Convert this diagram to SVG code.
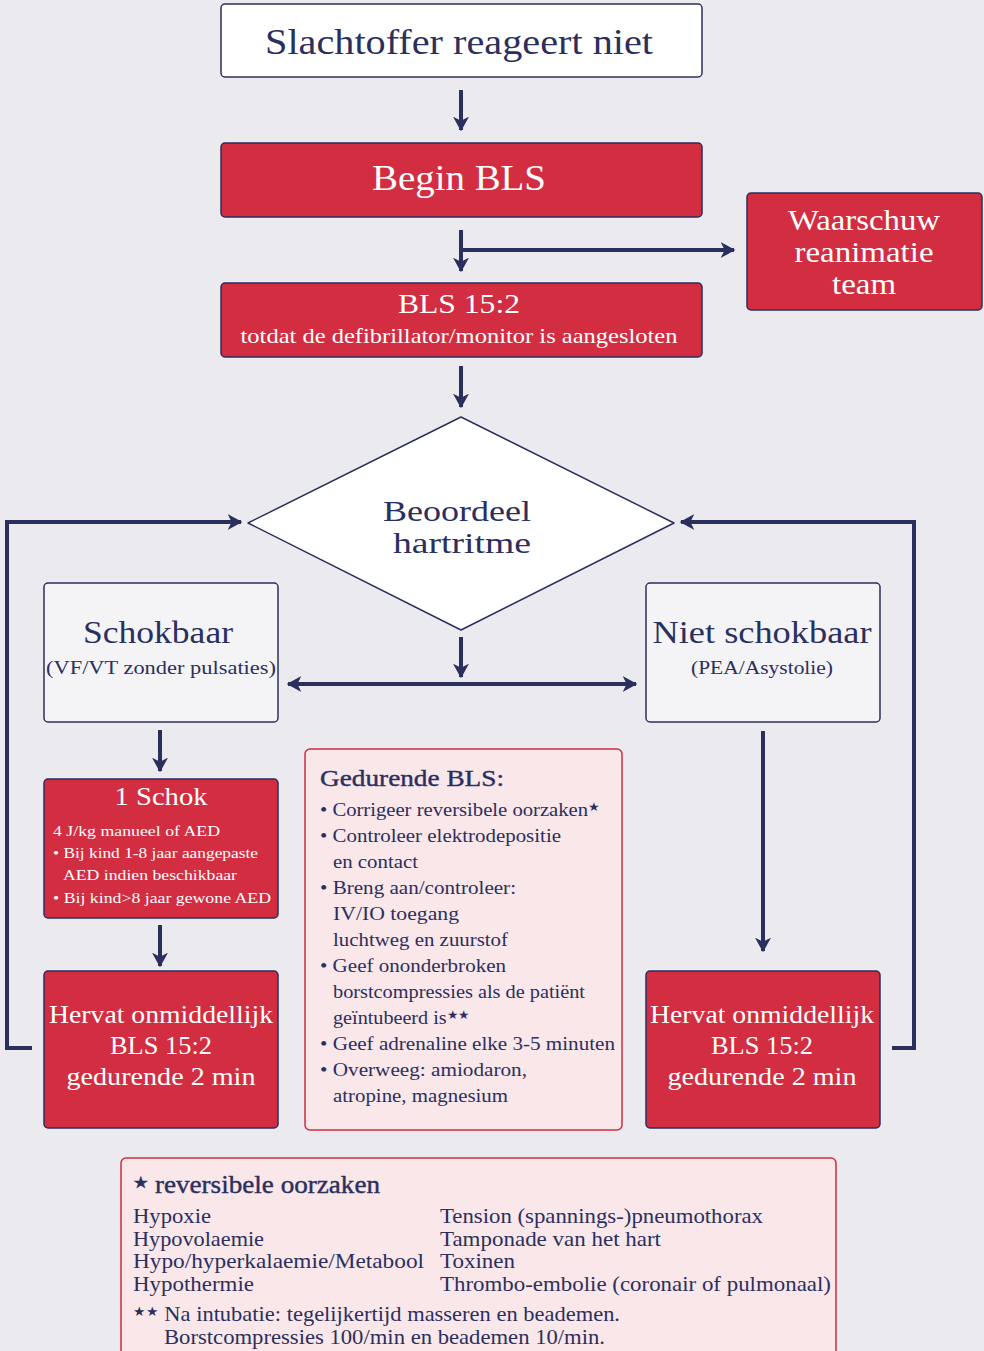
<svg xmlns="http://www.w3.org/2000/svg" width="984" height="1351" viewBox="0 0 984 1351">
<style>
text{font-family:"Liberation Serif","Times New Roman",serif;fill:#2b2f5e}
.w{fill:#ffffff}
.c{text-anchor:middle}
.hd{stroke:#2b2f5e;stroke-width:0.4}
.st{font-size:62%}
.red{fill:#d22d41;stroke:#2b2f5e;stroke-width:1.5}
.lt{fill:#f4f4f7;stroke:#2b2f5e;stroke-width:1.5}
.pink{fill:#f9e7ea;stroke:#d22d41;stroke-width:1.5}
.con{fill:none;stroke:#2b2f5e;stroke-width:4}
</style>
<defs>
<marker id="ah" viewBox="0 0 12 12" refX="10" refY="6" markerWidth="16" markerHeight="16" markerUnits="userSpaceOnUse" orient="auto-start-reverse">
<path d="M0,0 L11,6 L0,12 L3,6 Z" fill="#2b2f5e"/>
</marker>
</defs>
<rect width="984" height="1351" fill="#eaeaef"/>

<g id="connectors">
<line class="con" x1="461" y1="90" x2="461" y2="130" marker-end="url(#ah)"/>
<line class="con" x1="461" y1="230" x2="461" y2="271" marker-end="url(#ah)"/>
<line class="con" x1="461" y1="250" x2="734" y2="250" marker-end="url(#ah)"/>
<line class="con" x1="461" y1="366" x2="461" y2="407" marker-end="url(#ah)"/>
<line class="con" x1="461" y1="637" x2="461" y2="677" marker-end="url(#ah)"/>
<line class="con" x1="288" y1="684" x2="636" y2="684" marker-start="url(#ah)" marker-end="url(#ah)"/>
<line class="con" x1="160" y1="730" x2="160" y2="771" marker-end="url(#ah)"/>
<line class="con" x1="160" y1="925" x2="160" y2="966" marker-end="url(#ah)"/>
<line class="con" x1="763" y1="731" x2="763" y2="951" marker-end="url(#ah)"/>
<polyline class="con" points="32,1048 7,1048 7,522 241,522" marker-end="url(#ah)"/>
<polyline class="con" points="892,1048 914,1048 914,522 681,522" marker-end="url(#ah)"/>
</g>

<g id="start">
<rect x="221" y="4" width="481" height="73" rx="4" fill="#ffffff" stroke="#2b2f5e" stroke-width="1.5"/>
<text class="c" x="459" y="54" font-size="35" textLength="388" lengthAdjust="spacingAndGlyphs">Slachtoffer reageert niet</text>
</g>

<g id="begin-bls">
<rect class="red" x="221" y="143" width="481" height="74" rx="4"/>
<text class="c w" x="459" y="190" font-size="36" textLength="174" lengthAdjust="spacingAndGlyphs">Begin BLS</text>
</g>

<g id="waarschuw">
<rect class="red" x="747" y="193" width="235" height="117" rx="4"/>
<text class="c w" x="864" y="230" font-size="29" textLength="152" lengthAdjust="spacingAndGlyphs">Waarschuw</text>
<text class="c w" x="864" y="262" font-size="29" textLength="139" lengthAdjust="spacingAndGlyphs">reanimatie</text>
<text class="c w" x="864" y="294" font-size="29" textLength="64" lengthAdjust="spacingAndGlyphs">team</text>
</g>

<g id="bls152">
<rect class="red" x="221" y="283" width="481" height="74" rx="4"/>
<text class="c w" x="459" y="313" font-size="28" textLength="122" lengthAdjust="spacingAndGlyphs">BLS 15:2</text>
<text class="c w" x="459" y="343" font-size="21" textLength="437" lengthAdjust="spacingAndGlyphs">totdat de defibrillator/monitor is aangesloten</text>
</g>

<g id="beoordeel">
<polygon points="461,417 674,523 461,630 248,523" fill="#ffffff" stroke="#2b2f5e" stroke-width="1.5" stroke-linejoin="round"/>
<text class="c" x="457" y="521" font-size="30" textLength="148" lengthAdjust="spacingAndGlyphs">Beoordeel</text>
<text class="c" x="462" y="553" font-size="30" textLength="138" lengthAdjust="spacingAndGlyphs">hartritme</text>
</g>

<g id="schokbaar">
<rect class="lt" x="44" y="583" width="234" height="139" rx="4"/>
<text class="c" x="158" y="643" font-size="32" textLength="150" lengthAdjust="spacingAndGlyphs">Schokbaar</text>
<text class="c" x="161" y="674" font-size="19" textLength="230" lengthAdjust="spacingAndGlyphs">(VF/VT zonder pulsaties)</text>
</g>

<g id="niet-schokbaar">
<rect class="lt" x="646" y="583" width="234" height="139" rx="4"/>
<text class="c" x="762" y="643" font-size="32" textLength="219" lengthAdjust="spacingAndGlyphs">Niet schokbaar</text>
<text class="c" x="762" y="674" font-size="19" textLength="142" lengthAdjust="spacingAndGlyphs">(PEA/Asystolie)</text>
</g>

<g id="schok">
<rect class="red" x="44" y="779" width="234" height="139" rx="4"/>
<text class="c w" x="161" y="805" font-size="26" textLength="93" lengthAdjust="spacingAndGlyphs">1 Schok</text>
<text class="w" x="53" y="836" font-size="15" textLength="167" lengthAdjust="spacingAndGlyphs">4 J/kg manueel of AED</text>
<text class="w" x="53" y="858" font-size="15" textLength="205" lengthAdjust="spacingAndGlyphs">• Bij kind 1-8 jaar aangepaste</text>
<text class="w" x="63" y="880" font-size="15" textLength="174" lengthAdjust="spacingAndGlyphs">AED indien beschikbaar</text>
<text class="w" x="53" y="903" font-size="15" textLength="218" lengthAdjust="spacingAndGlyphs">• Bij kind&gt;8 jaar gewone AED</text>
</g>

<g id="hervat-links">
<rect class="red" x="44" y="971" width="234" height="157" rx="4"/>
<text class="c w" x="161" y="1023" font-size="25" textLength="224" lengthAdjust="spacingAndGlyphs">Hervat onmiddellijk</text>
<text class="c w" x="161" y="1054" font-size="25" textLength="102" lengthAdjust="spacingAndGlyphs">BLS 15:2</text>
<text class="c w" x="161" y="1085" font-size="25" textLength="189" lengthAdjust="spacingAndGlyphs">gedurende 2 min</text>
</g>

<g id="gedurende">
<rect class="pink" x="305" y="749" width="317" height="381" rx="5"/>
<text class="hd" x="320" y="786" font-size="24" textLength="184" lengthAdjust="spacingAndGlyphs">Gedurende BLS:</text>
<g font-size="19">
<text x="320" y="816" textLength="280" lengthAdjust="spacingAndGlyphs">• Corrigeer reversibele oorzaken<tspan class="st" dy="-5">★</tspan></text>
<text x="320" y="842" textLength="241" lengthAdjust="spacingAndGlyphs">• Controleer elektrodepositie</text>
<text x="333" y="868" textLength="85" lengthAdjust="spacingAndGlyphs">en contact</text>
<text x="320" y="894" textLength="196" lengthAdjust="spacingAndGlyphs">• Breng aan/controleer:</text>
<text x="333" y="920" textLength="126" lengthAdjust="spacingAndGlyphs">IV/IO toegang</text>
<text x="333" y="946" textLength="175" lengthAdjust="spacingAndGlyphs">luchtweg en zuurstof</text>
<text x="320" y="972" textLength="186" lengthAdjust="spacingAndGlyphs">• Geef ononderbroken</text>
<text x="333" y="998" textLength="252" lengthAdjust="spacingAndGlyphs">borstcompressies als de patiënt</text>
<text x="333" y="1024" textLength="137" lengthAdjust="spacingAndGlyphs">geïntubeerd is<tspan class="st" dy="-5">★★</tspan></text>
<text x="320" y="1050" textLength="295" lengthAdjust="spacingAndGlyphs">• Geef adrenaline elke 3-5 minuten</text>
<text x="320" y="1076" textLength="207" lengthAdjust="spacingAndGlyphs">• Overweeg: amiodaron,</text>
<text x="333" y="1102" textLength="175" lengthAdjust="spacingAndGlyphs">atropine, magnesium</text>
</g>
</g>

<g id="hervat-rechts">
<rect class="red" x="646" y="971" width="234" height="157" rx="4"/>
<text class="c w" x="762" y="1023" font-size="25" textLength="224" lengthAdjust="spacingAndGlyphs">Hervat onmiddellijk</text>
<text class="c w" x="762" y="1054" font-size="25" textLength="102" lengthAdjust="spacingAndGlyphs">BLS 15:2</text>
<text class="c w" x="762" y="1085" font-size="25" textLength="189" lengthAdjust="spacingAndGlyphs">gedurende 2 min</text>
</g>

<g id="reversibele-oorzaken">
<rect class="pink" x="121" y="1158" width="715" height="200" rx="5"/>
<text class="hd" x="133" y="1193" font-size="25" textLength="247" lengthAdjust="spacingAndGlyphs"><tspan class="st" dy="-5">★</tspan><tspan dy="5"> reversibele oorzaken</tspan></text>
<g font-size="21">
<text x="133" y="1223" textLength="78" lengthAdjust="spacingAndGlyphs">Hypoxie</text>
<text x="133" y="1246" textLength="131" lengthAdjust="spacingAndGlyphs">Hypovolaemie</text>
<text x="133" y="1268" textLength="291" lengthAdjust="spacingAndGlyphs">Hypo/hyperkalaemie/Metabool</text>
<text x="133" y="1291" textLength="121" lengthAdjust="spacingAndGlyphs">Hypothermie</text>
<text x="440" y="1223" textLength="323" lengthAdjust="spacingAndGlyphs">Tension (spannings-)pneumothorax</text>
<text x="440" y="1246" textLength="221" lengthAdjust="spacingAndGlyphs">Tamponade van het hart</text>
<text x="440" y="1268" textLength="75" lengthAdjust="spacingAndGlyphs">Toxinen</text>
<text x="440" y="1291" textLength="391" lengthAdjust="spacingAndGlyphs">Thrombo-embolie (coronair of pulmonaal)</text>
<text x="133" y="1321" textLength="487" lengthAdjust="spacingAndGlyphs"><tspan class="st" dy="-5">★★</tspan><tspan dy="5"> Na intubatie: tegelijkertijd masseren en beademen.</tspan></text>
<text x="164" y="1344" textLength="441" lengthAdjust="spacingAndGlyphs">Borstcompressies 100/min en beademen 10/min.</text>
</g>
</g>
</svg>
